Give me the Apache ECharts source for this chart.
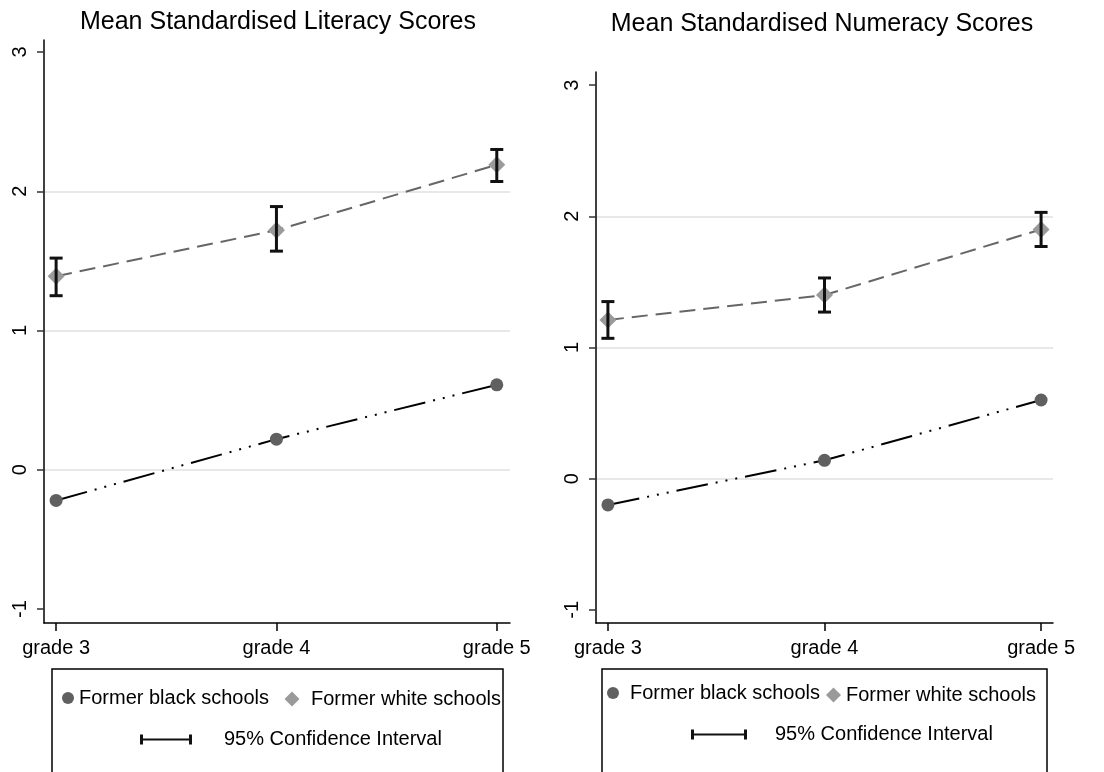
<!DOCTYPE html>
<html>
<head>
<meta charset="utf-8">
<script src="https://cdn.jsdelivr.net/npm/echarts@6/dist/echarts.min.js"></script>
<style>
html,body{margin:0;padding:0;background:#fff;}
#chart{width:1104px;height:772px;}
</style>
</head>
<body>
<div id="chart"></div>
<script>
const categories = ['grade 3', 'grade 4', 'grade 5'];
const yTicks = [-1, 0, 1, 2, 3];
const xTicks = [0, 1, 2];
const seriesNames = ['Former black schools', 'Former white schools', '95% Confidence Interval'];
const titles = ['Mean Standardised Literacy Scores', 'Mean Standardised Numeracy Scores'];

const litBlack = [-0.22, 0.22, 0.61];
const litWhite = [1.39, 1.72, 2.19];
const litWhiteLo = [1.25, 1.57, 2.07];
const litWhiteHi = [1.52, 1.89, 2.30];

const numBlack = [-0.20, 0.14, 0.60];
const numWhite = [1.21, 1.40, 1.90];
const numWhiteLo = [1.07, 1.27, 1.77];
const numWhiteHi = [1.35, 1.53, 2.03];

const FONT = "'Liberation Sans', Arial, sans-serif";
const chart = echarts.init(document.getElementById('chart'));

function pts(vals) { return vals.map((v, i) => [i, v]); }
function ci(lo, hi) { return lo.map((v, i) => [i, v, hi[i]]); }

function xAxis(idx, min, max) {
  return {
    type: 'value', gridIndex: idx, min: min, max: max,
    axisLine: { show: true, onZero: false, lineStyle: { color: '#000', width: 1.5 } },
    axisTick: { show: true, customValues: xTicks, length: 8, lineStyle: { color: '#000', width: 1.5 } },
    axisLabel: { customValues: xTicks, formatter: v => categories[Math.round(v)], fontSize: 20, color: '#000', fontFamily: FONT, margin: 15 },
    splitLine: { show: false }
  };
}
function yAxis(idx, min, max) {
  return {
    type: 'value', gridIndex: idx, min: min, max: max,
    axisLine: { show: true, onZero: false, lineStyle: { color: '#000', width: 1.5 } },
    axisTick: { show: true, customValues: yTicks, length: 7, lineStyle: { color: '#333', width: 1.5 } },
    axisLabel: { customValues: yTicks, rotate: 90, fontSize: 20, color: '#000', fontFamily: FONT, margin: 14 },
    splitLine: { show: true, showMinLine: false, showMaxLine: false, lineStyle: { color: '#e0e0e0', width: 1.5 } }
  };
}

function ciRender(params, api) {
  const x = api.value(0);
  const pLo = api.coord([x, api.value(1)]);
  const pHi = api.coord([x, api.value(2)]);
  const w = 6.5;
  const st = { stroke: '#111', lineWidth: 3 };
  return {
    type: 'group',
    children: [
      { type: 'line', shape: { x1: pLo[0], y1: pLo[1], x2: pHi[0], y2: pHi[1] }, style: st },
      { type: 'line', shape: { x1: pLo[0] - w, y1: pLo[1], x2: pLo[0] + w, y2: pLo[1] }, style: st },
      { type: 'line', shape: { x1: pHi[0] - w, y1: pHi[1], x2: pHi[0] + w, y2: pHi[1] }, style: st }
    ]
  };
}

function panelSeries(idx, black, white, lo, hi) {
  return [
    {
      name: seriesNames[0], type: 'line', xAxisIndex: idx, yAxisIndex: idx,
      data: pts(black), symbol: 'circle', symbolSize: 13, z: 2,
      itemStyle: { color: '#606060', borderWidth: 0 },
      lineStyle: { color: '#000', width: 2, type: [32, 8, 2, 8, 2, 8, 2, 8] }
    },
    {
      name: seriesNames[1], type: 'line', xAxisIndex: idx, yAxisIndex: idx,
      data: pts(white), symbol: 'diamond', symbolSize: 17, z: 2,
      itemStyle: { color: '#9a9a9a', borderWidth: 0 },
      lineStyle: { color: '#666', width: 2, type: [16, 8] }
    },
    {
      name: seriesNames[2], type: 'custom', xAxisIndex: idx, yAxisIndex: idx,
      data: ci(lo, hi), renderItem: ciRender, z: 4,
      encode: { x: 0, y: [1, 2] },
      itemStyle: { color: '#111' }
    }
  ];
}

const ciIconL = 'path://M0,0H3V10H0Z M3,4H49V6H3Z M49,0H52V10H49Z';
const ciIconR = 'path://M0,0H3V10H0Z M3,4H53V6H3Z M53,0H56V10H53Z';

function legendItem(name, icon, left, top, w, h, padLeft, color) {
  return {
    left: left, top: top, padding: 0, selectedMode: false,
    itemWidth: w, itemHeight: h, itemGap: 0,
    textStyle: { fontSize: 20, color: '#000', fontFamily: FONT, padding: [0, 0, 0, padLeft] },
    itemStyle: { borderWidth: 0 },
    data: [{ name: name, icon: icon, itemStyle: { color: color, borderWidth: 0 } }]
  };
}

const option = {
  animation: false,
  backgroundColor: '#fff',
  grid: [
    { left: 44, top: 40, width: 466, height: 583 },
    { left: 596, top: 72, width: 457, height: 551 }
  ],
  xAxis: [xAxis(0, -0.055, 2.06), xAxis(1, -0.055, 2.055)],
  yAxis: [yAxis(0, -1.1, 3.086), yAxis(1, -1.1, 3.1)],
  legend: [
    legendItem(seriesNames[0], 'circle', 62, 688, 12, 12, 0, '#606060'),
    legendItem(seriesNames[1], 'diamond', 284.5, 689, 15, 15, 6.5, '#9a9a9a'),
    legendItem(seriesNames[2], ciIconL, 140, 729.5, 52, 10, 27, '#111'),
    legendItem(seriesNames[0], 'circle', 607, 683, 12, 12, 6, '#606060'),
    legendItem(seriesNames[1], 'diamond', 826, 685, 15, 15, 0, '#9a9a9a'),
    legendItem(seriesNames[2], ciIconR, 691, 724.5, 56, 10, 23, '#111')
  ],
  graphic: [
    { type: 'text', x: 278, y: 22, style: { text: titles[0], fontSize: 25, fontFamily: FONT, fill: '#000', align: 'center', verticalAlign: 'middle' } },
    { type: 'text', x: 822, y: 24, style: { text: titles[1], fontSize: 25, fontFamily: FONT, fill: '#000', align: 'center', verticalAlign: 'middle' } },
    { type: 'rect', shape: { x: 52, y: 669, width: 451, height: 140 }, style: { fill: 'none', stroke: '#000', lineWidth: 1.5 } },
    { type: 'rect', shape: { x: 602, y: 669, width: 445, height: 140 }, style: { fill: 'none', stroke: '#000', lineWidth: 1.5 } }
  ],
  series: [].concat(
    panelSeries(0, litBlack, litWhite, litWhiteLo, litWhiteHi),
    panelSeries(1, numBlack, numWhite, numWhiteLo, numWhiteHi)
  )
};
chart.setOption(option);
</script>
</body>
</html>
